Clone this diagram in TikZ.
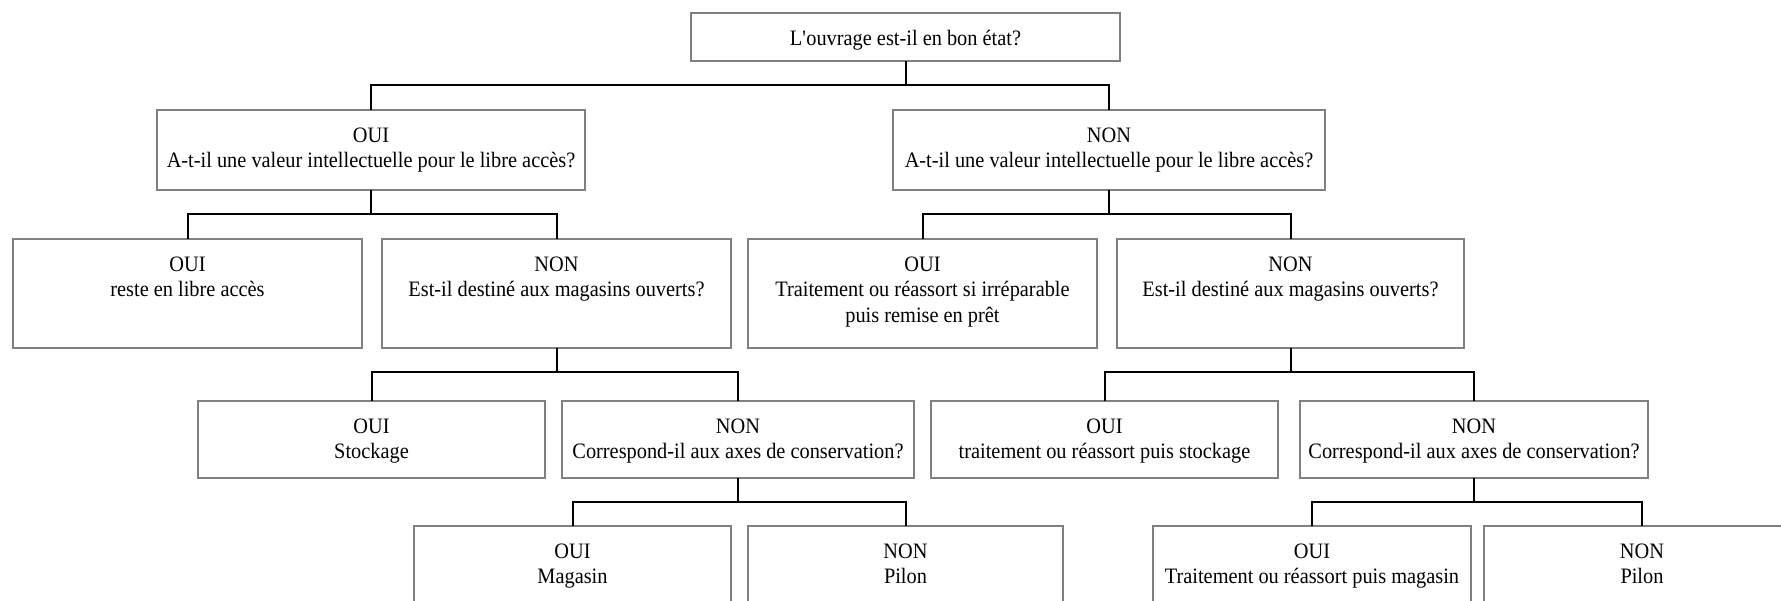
\documentclass[tikz,border=0pt]{standalone}
\usepackage{fontspec}
\setmainfont{Liberation Serif}[FakeStretch=0.925]
\usetikzlibrary{positioning}
\definecolor{frame}{HTML}{808080}
\definecolor{ink}{HTML}{000000}

\begin{document}
\begin{tikzpicture}[
  x=1pt,y=-1pt,
  font=\fontsize{22}{25.5}\selectfont,
  box/.style={draw=frame,line width=2pt,text width=#1,align=flush center,inner sep=0pt,outer sep=0pt,anchor=north west,text height=32pt},
  tall/.style={text depth=#1},
  link/.style={draw=ink,line width=2pt}
]
\useasboundingbox (0,0) rectangle (1781,600);
\clip (0,0) rectangle (1781,600);

% question de depart
\node[box=429pt,tall=16pt] (etat) at (691,13) {L\textquotesingle ouvrage est-il en bon état?};

\node[box=428pt,tall=48pt] (valOui) at (157,110) {OUI\\A-t-il une valeur intellectuelle pour le libre accès?};
\node[box=432pt,tall=48pt] (valNon) at (893,110) {NON\\A-t-il une valeur intellectuelle pour le libre accès?};

\node[box=349pt,tall=77pt] (libre) at (13,239) {OUI\\reste en libre accès};
\node[box=349pt,tall=77pt,right=20pt of libre] (ouvA) {NON\\Est-il destiné aux magasins ouverts?};
\node[box=349pt,tall=77pt] (pret) at (748,239) {OUI\\Traitement ou réassort si irréparable\\puis remise en prêt};
\node[box=347pt,tall=77pt,right=20pt of pret] (ouvB) {NON\\Est-il destiné aux magasins ouverts?};

\node[box=347pt,tall=45pt] (stock) at (198,401) {OUI\\Stockage};
\node[box=352pt,tall=45pt,right=17pt of stock] (axesA) {NON\\Correspond-il aux axes de conservation?};
\node[box=347pt,tall=45pt] (stockB) at (931,401) {OUI\\traitement ou réassort puis stockage};
\node[box=348pt,tall=45pt,right=22pt of stockB] (axesB) {NON\\Correspond-il aux axes de conservation?};

\node[box=317pt,tall=68pt] (magasin) at (414,526) {OUI\\Magasin};
\node[box=315pt,tall=68pt,right=17pt of magasin] (pilonA) {NON\\Pilon};
\node[box=318pt,tall=68pt] (magB) at (1153,526) {OUI\\Traitement ou réassort puis magasin};
\node[box=316pt,tall=68pt,right=13pt of magB] (pilonB) {NON\\Pilon};

% liaisons
\foreach \up/\down in {etat/valOui,etat/valNon,valOui/libre,valOui/ouvA,valNon/pret,valNon/ouvB,
  ouvA/stock,ouvA/axesA,ouvB/stockB,ouvB/axesB,axesA/magasin,axesA/pilonA,axesB/magB,axesB/pilonB}
  \draw[link] (\up.south) -- ++(0,24) -| (\down.north);
\end{tikzpicture}
\end{document}
